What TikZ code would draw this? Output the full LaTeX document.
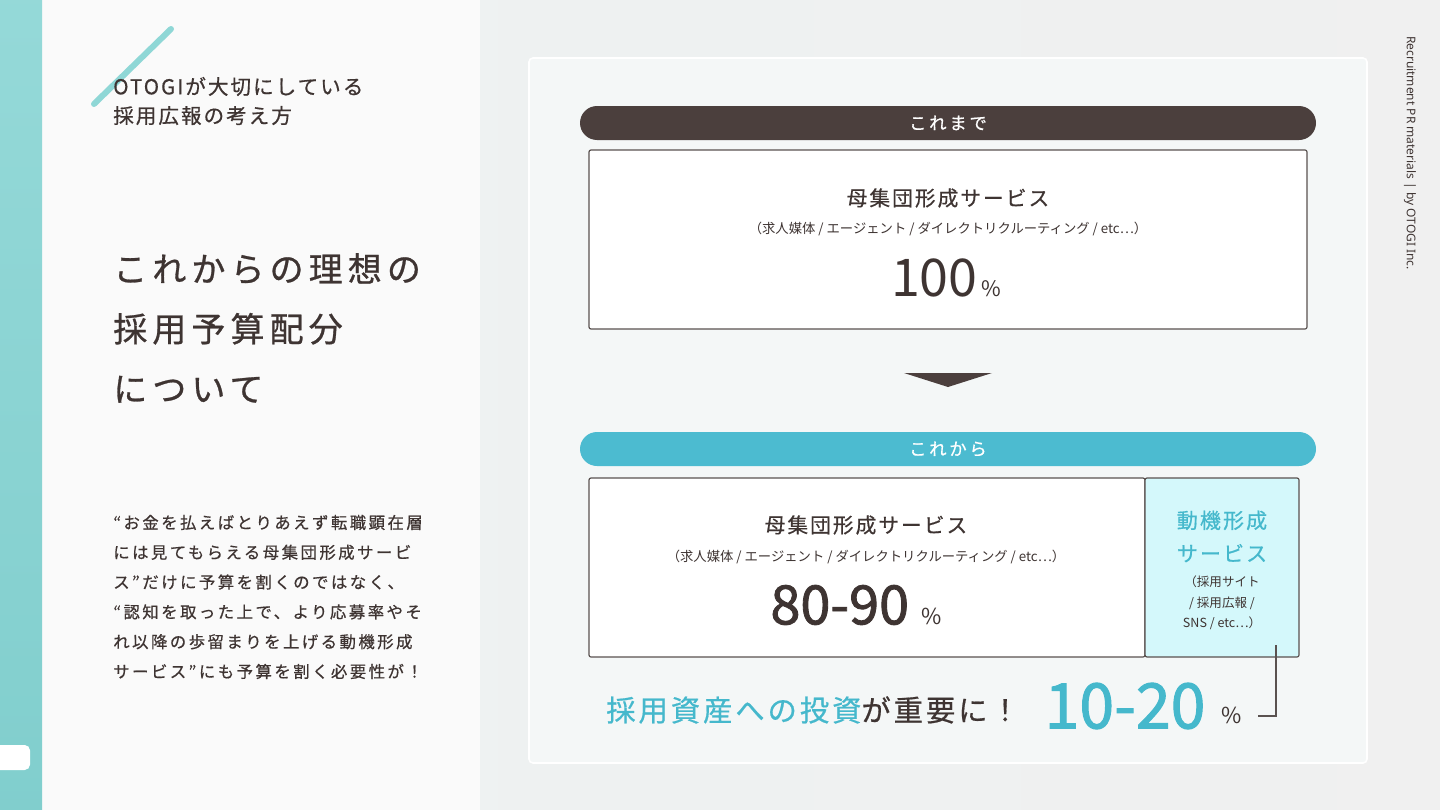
\documentclass[tikz,border=0pt]{standalone}
\usepackage{fontspec}
\setmainfont{Noto Sans CJK JP}
\newfontfamily\jptitle[LetterSpace=15, FakeBold=0.8]{Noto Sans CJK JP}
\newfontfamily\jpbody[LetterSpace=15, FakeBold=0.6]{Noto Sans CJK JP}
\newfontfamily\jpwide[LetterSpace=10, FakeBold=0.6]{Noto Sans CJK JP}
\newfontfamily\jppill[LetterSpace=16, FakeBold=0.8]{Noto Sans CJK JP}
\newfontfamily\jpnum[FakeBold=1.6]{Noto Sans CJK JP}
\newfontfamily\latinsans{Noto Sans}
\usetikzlibrary{positioning}
\definecolor{inkbrown}{HTML}{3E3432}
\definecolor{pilldark}{HTML}{4B3F3D}
\definecolor{pillteal}{HTML}{4CBBD0}
\definecolor{textteal}{HTML}{45B8CC}
\definecolor{cyanpale}{HTML}{D4F8FB}
\definecolor{stripe}{HTML}{8FD7D6}
\definecolor{sidepanel}{HTML}{FAFAFA}
\definecolor{cardfill}{HTML}{F4F7F7}
\definecolor{framegray}{HTML}{5A5250}
\newcommand{\fsz}[2]{\fontsize{#1pt}{#2pt}\selectfont}
\tikzset{
    band/.style={
            rounded corners=12.75pt, minimum width=552pt, minimum height=25.5pt,
            inner sep=0pt, text=white, font=\jppill\fsz{13}{14}
        },
    panel/.style={
            draw=framegray, line width=0.9pt, rounded corners=1.5pt, fill=white,
            minimum height=134.25pt, inner sep=0pt, outer sep=0pt
        },
    heading/.style={text=inkbrown, inner sep=0pt, font=\jpwide\fsz{15.5}{17}},
    note/.style={text=inkbrown, inner sep=0pt, font=\fsz{10}{12}},
}

\begin{document}
\begin{tikzpicture}[x=0.75pt, y=-0.75pt]
    \useasboundingbox (0,0) rectangle (1440,810);
    %draw backgrounds
    \fill[sidepanel] (0,0) rectangle (480,810);
    \shade[left color=cyan!12!gray!12, right color=gray!12] (480,0) rectangle (1440,810);
    \shade[top color=stripe!95!white, bottom color=stripe!90!teal] (0,0) rectangle (42,810);
    \fill[white, rounded corners=4pt] (-10,745) rectangle (30,770);
    \draw[stripe, line width=4.5pt, line cap=round] (94,104) -- (171,29);

    %draw left texts
    \node[anchor=west, align=left, text=inkbrown, inner sep=0pt, font=\jpwide\fsz{15.4}{21.75}]
        (kicker) at (113,101) {OTOGIが大切にしている\\採用広報の考え方};
    \node[anchor=west, align=left, text=inkbrown, inner sep=0pt, font=\jptitle\fsz{25.5}{45}]
        (title) at (113,328) {これからの理想の\\採用予算配分\\について};
    \node[anchor=west, align=left, text=inkbrown, inner sep=0pt, font=\jpbody\fsz{12.3}{22.35}]
        (lead) at (113,597) {“お金を払えばとりあえず転職顕在層\\には見てもらえる母集団形成サービ\\ス”だけに予算を割くのではなく、\\“認知を取った上で、より応募率やそ\\れ以降の歩留まりを上げる動機形成\\サービス”にも予算を割く必要性が！};

    %draw card
    \draw[white, line width=1.2pt, fill=cardfill, rounded corners=3pt] (529,58) rectangle (1367,763);

    %draw before part
    \node[band, fill=pilldark] (past) at (948,123) {これまで};
    \node[panel, minimum width=538.5pt] (before) at (948,239.5) {};
    \node[heading] (pastname) at (948,198) {母集団形成サービス};
    \node[note] (pastsub) at (948,229) {（求人媒体 / エージェント / ダイレクトリクルーティング / etc…）};
    \node[text=inkbrown, inner sep=0pt] (pastshare) at (946,278)
        {{\fsz{39}{39}100}{\fsz{16}{16}\,\%}};
    \fill[pilldark] (904,373) -- (992,373) -- (948,387) -- cycle;

    %draw after part
    \node[band, fill=pillteal] (future) at (948,449) {これから};
    \node[panel, minimum width=417pt] (after) at (867,567.5) {};
    \node[panel, fill=cyanpale, minimum width=115.5pt, right=0pt of after] (motive) {};
    \node[heading] (nowname) at (866,525) {母集団形成サービス};
    \node[note] (nowsub) at (866,557) {（求人媒体 / エージェント / ダイレクトリクルーティング / etc…）};
    \node[text=inkbrown, inner sep=0pt] (nowshare) at (856,605)
        {{\jpnum\fsz{40.5}{40.5}80-90}{\fsz{16.5}{16.5}\;\;\%}};
    \node[text=textteal, inner sep=0pt, align=center, font=\jpwide\fsz{15.75}{24.75}]
        (motivename) at (1222,536.5) {動機形成\\サービス};
    \node[note, align=center, font=\fsz{9.4}{15.4}] (motivesub) at (1222,603)
        {（採用サイト\\/ 採用広報 /\\SNS / etc…）};

    %draw bottom message
    \node[anchor=west, inner sep=0pt, font=\jpwide\fsz{22}{24}] (message) at (606,710)
        {\textcolor{textteal}{採用資産への投資}\textcolor{inkbrown}{が重要に！}};
    \node[text=textteal, inner sep=0pt, font=\jpnum\fsz{47}{47}] (newshare) at (1125,706) {10-20};
    \node[text=inkbrown, inner sep=0pt, font=\fsz{16.5}{16.5}] (newpct) at (1232,715) {\%};
    \coordinate (bktop) at (1276,645);
    \coordinate (bkend) at (1258,716);
    \draw[framegray, line width=0.8pt] (bktop) |- (bkend);

    %draw side label
    \node[rotate=-90, text=inkbrown, inner sep=0pt, font=\latinsans\fsz{9}{10}] (credit) at (1410,153)
        {Recruitment PR materials | by OTOGI Inc.};
\end{tikzpicture}
\end{document}
